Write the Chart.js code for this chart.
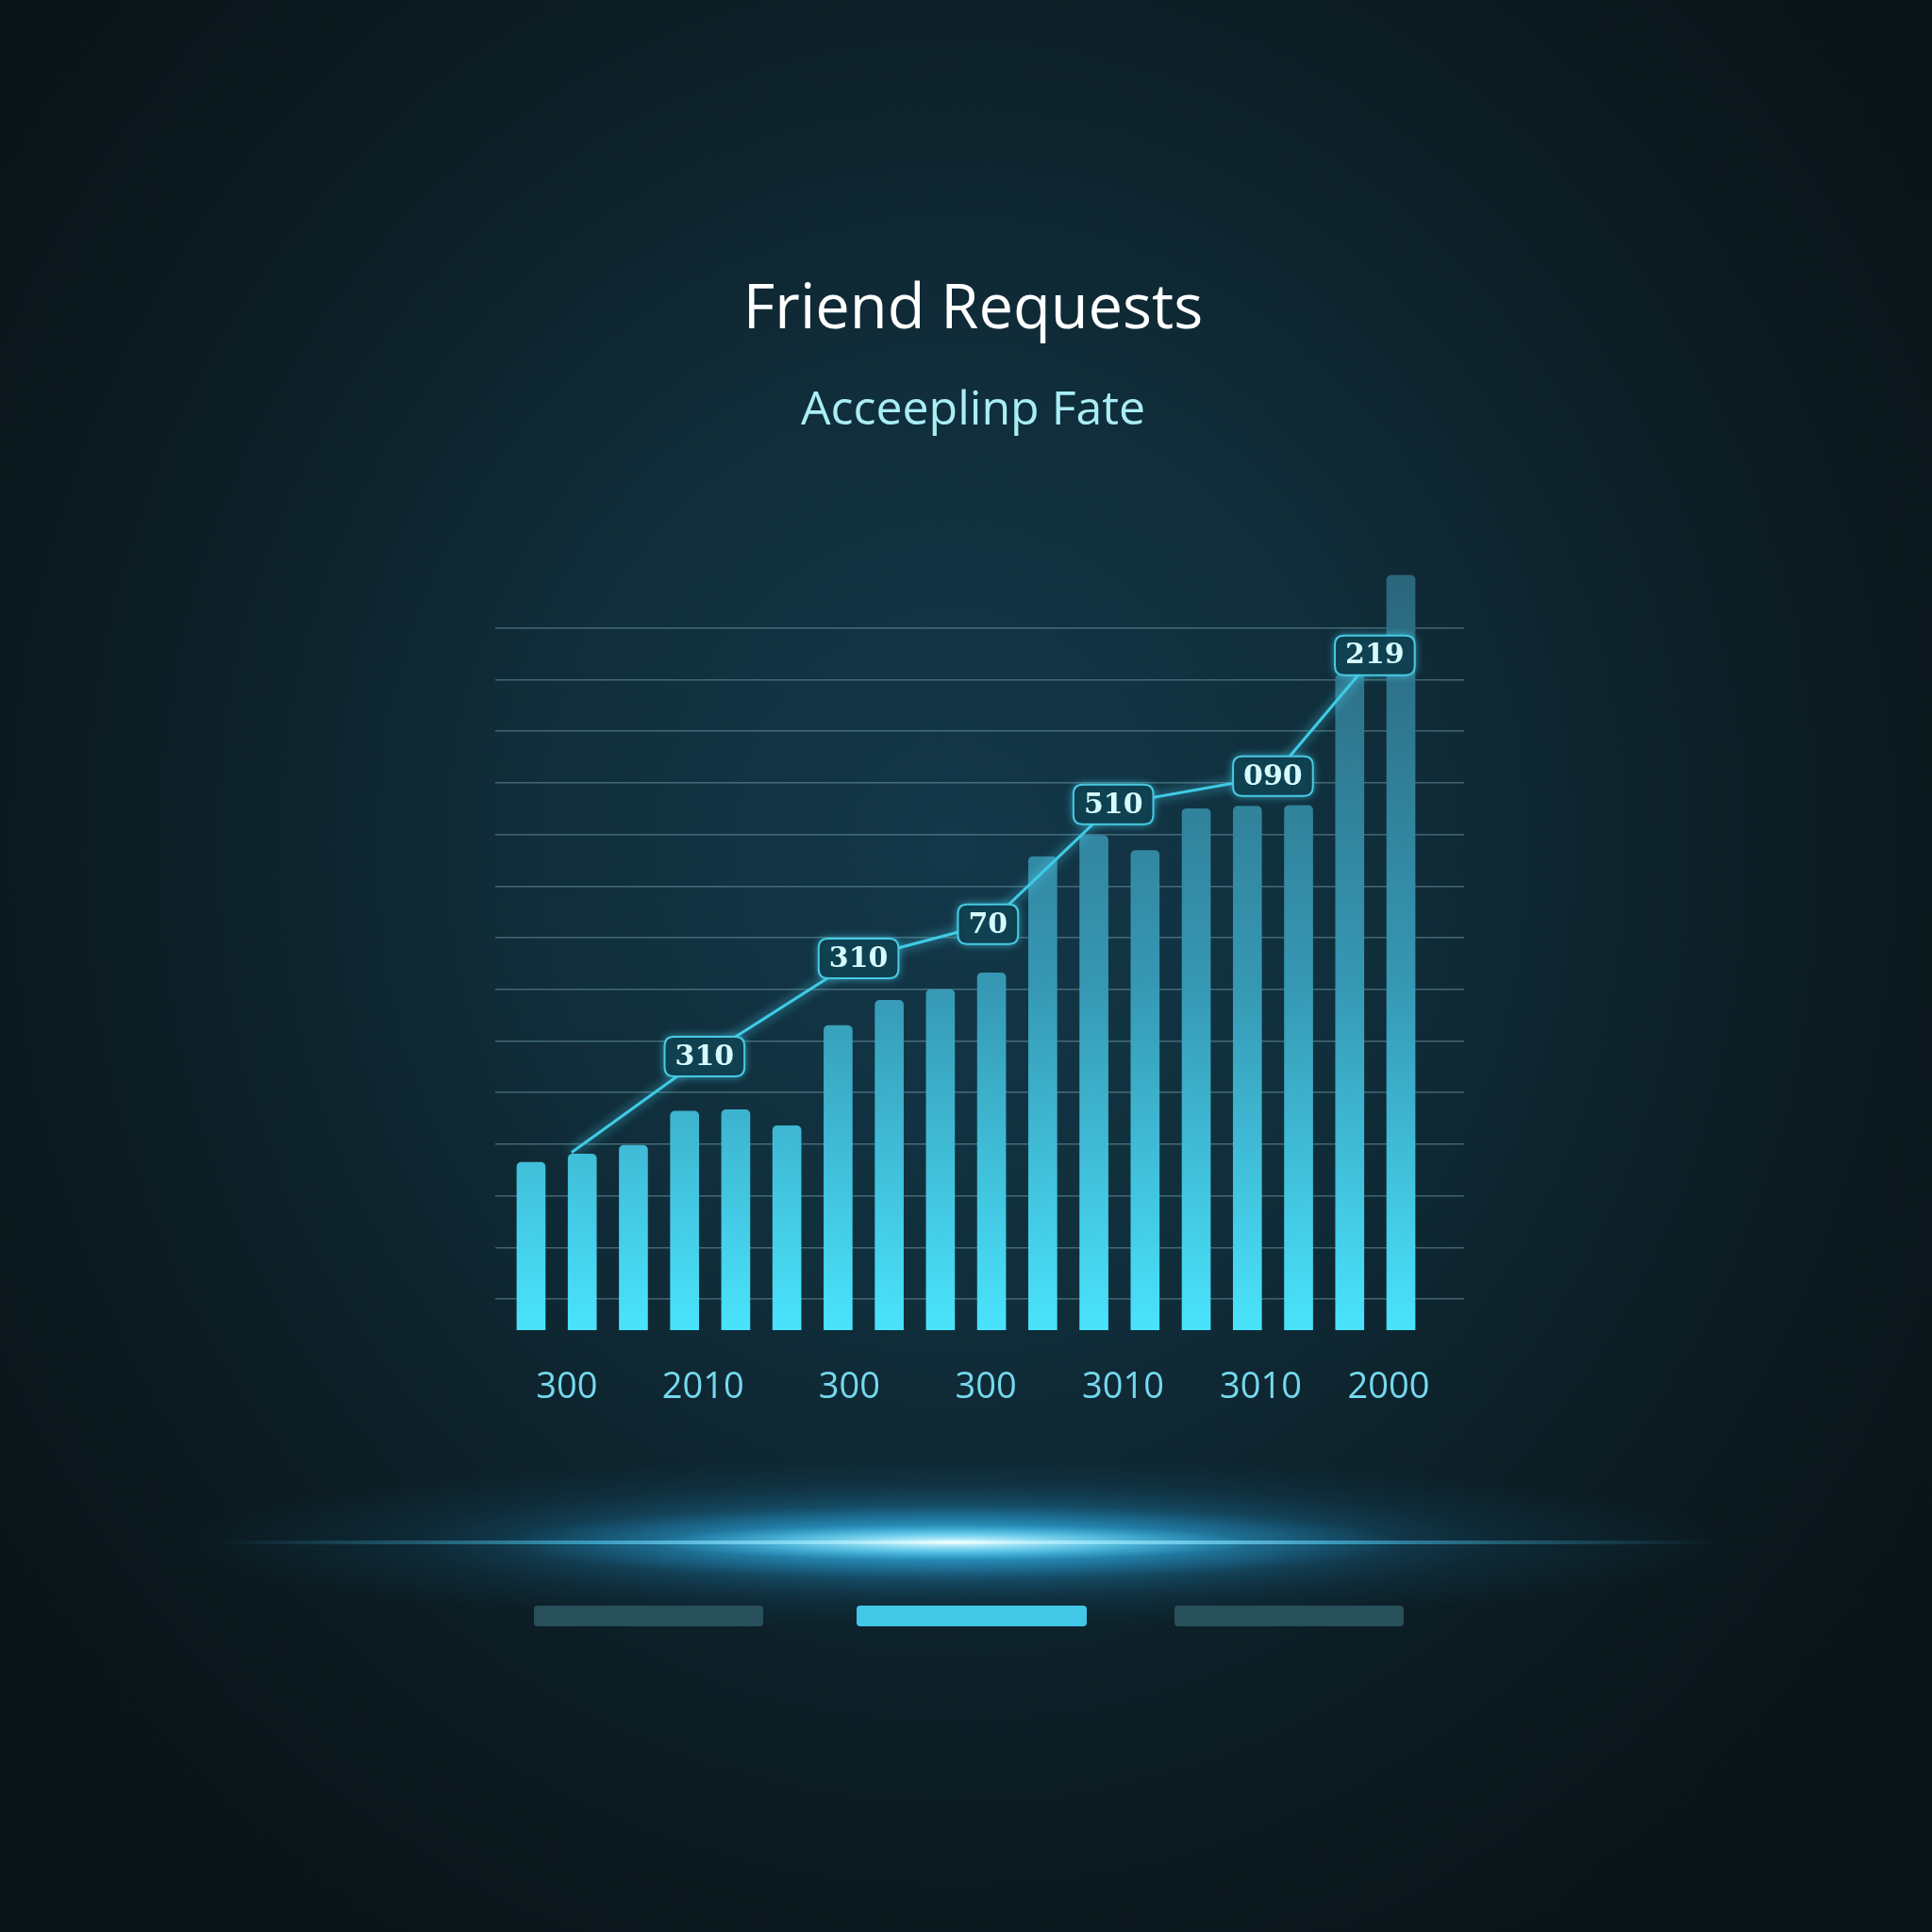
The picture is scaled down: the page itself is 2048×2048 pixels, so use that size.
<!DOCTYPE html>
<html><head><meta charset="utf-8">
<script src="https://cdn.jsdelivr.net/npm/chart.js@4.4.1/dist/chart.umd.min.js"></script>
<style>html,body{margin:0;padding:0;background:#0a1418;}canvas{display:block;}</style>
</head><body>
<canvas id="c" width="2048" height="2048"></canvas>
<script>
// ---- data ----
const categories = ['1','2','3','4','5','6','7','8','9','10','11','12','13','14','15','16','17','18'];
const requests = [325, 341, 358, 424, 427, 396, 590, 639, 660, 692, 917, 958, 929, 1010, 1015, 1016, 1270, 1462];
const ratePositions = [0.79, 3.39, 6.40, 8.93, 11.38, 14.50, 16.49];
const rateValues = [344, 530, 720, 786, 1018, 1073, 1307];
const rateLabels = ['', '310', '310', '70', '510', '090', '219'];
const tickPositions = [0.70, 3.36, 6.22, 8.89, 11.57, 14.26, 16.76];
const tickLabels = ['300', '2010', '300', '300', '3010', '3010', '2000'];
const gridValues = [60, 160, 260, 360, 460, 560, 660, 760, 860, 960, 1060, 1160, 1260, 1360];

function rr(ctx, x, y, w, h, r) {
  ctx.beginPath();
  ctx.moveTo(x + r, y);
  ctx.lineTo(x + w - r, y); ctx.quadraticCurveTo(x + w, y, x + w, y + r);
  ctx.lineTo(x + w, y + h - r); ctx.quadraticCurveTo(x + w, y + h, x + w - r, y + h);
  ctx.lineTo(x + r, y + h); ctx.quadraticCurveTo(x, y + h, x, y + h - r);
  ctx.lineTo(x, y + r); ctx.quadraticCurveTo(x, y, x + r, y);
  ctx.closePath();
}

function barGrad(chart) {
  const a = chart.chartArea;
  if (!a) return '#3698b4';
  const g = chart.ctx.createLinearGradient(0, a.bottom, 0, a.top);
  g.addColorStop(0, '#4ae3fc');
  g.addColorStop(0.45, '#3698b4');
  g.addColorStop(1, '#2a6479');
  return g;
}

const bg = {
  id: 'bg',
  beforeDraw(chart) {
    const { ctx, width, height } = chart;
    ctx.save();
    ctx.fillStyle = '#0a1418';
    ctx.fillRect(0, 0, width, height);
    ctx.translate(1010, 900);
    ctx.scale(1, 1.1);
    const g = ctx.createRadialGradient(0, 0, 0, 0, 0, 1250);
    g.addColorStop(0, '#13384a');
    g.addColorStop(0.35, '#102e3b');
    g.addColorStop(0.7, '#0c1d24');
    g.addColorStop(1, '#0a1418');
    ctx.fillStyle = g;
    ctx.fillRect(-2000, -2000, 4000, 4000);
    ctx.restore();
  }
};

const lineGlow = {
  id: 'lineGlow',
  beforeDatasetDraw(chart, args) {
    if (args.index === 1) { chart.ctx.save(); chart.ctx.shadowColor = 'rgba(80,220,250,0.9)'; chart.ctx.shadowBlur = 12; }
  },
  afterDatasetDraw(chart, args) {
    if (args.index === 1) chart.ctx.restore();
  }
};

const tags = {
  id: 'tags',
  afterDatasetsDraw(chart) {
    const meta = chart.getDatasetMeta(1);
    const ctx = chart.ctx;
    ctx.save();
    ctx.font = 'bold 30px "DejaVu Serif"';
    meta.data.forEach((pt, i) => {
      const t = rateLabels[i];
      if (!t) return;
      const w = ctx.measureText(t).width + 22, h = 42;
      const x = pt.x - w / 2, y = pt.y - h / 2;
      ctx.shadowColor = 'rgba(70,210,240,0.8)';
      ctx.shadowBlur = 10;
      ctx.fillStyle = 'rgba(14,60,76,0.96)';
      rr(ctx, x, y, w, h, 10);
      ctx.fill();
      ctx.shadowBlur = 0;
      ctx.strokeStyle = '#49c9e2';
      ctx.lineWidth = 2;
      ctx.stroke();
      ctx.fillStyle = '#d6fbff';
      ctx.textAlign = 'center';
      ctx.textBaseline = 'middle';
      ctx.fillText(t, pt.x, pt.y + 1);
    });
    ctx.restore();
  }
};

const decor = {
  id: 'decor',
  afterDraw(chart) {
    const ctx = chart.ctx;
    const cx = 1010, cy = 1635;
    ctx.save();
    // wide halo
    ctx.save();
    ctx.translate(cx, cy); ctx.scale(1, 0.11);
    let g = ctx.createRadialGradient(0, 0, 0, 0, 0, 820);
    g.addColorStop(0, 'rgba(50,185,235,0.75)');
    g.addColorStop(0.35, 'rgba(35,150,205,0.45)');
    g.addColorStop(0.7, 'rgba(25,110,155,0.15)');
    g.addColorStop(1, 'rgba(20,100,140,0)');
    ctx.fillStyle = g;
    ctx.beginPath(); ctx.arc(0, 0, 820, 0, Math.PI * 2); ctx.fill();
    ctx.restore();
    // mid halo
    ctx.save();
    ctx.translate(cx, cy); ctx.scale(1, 0.08);
    g = ctx.createRadialGradient(0, 0, 0, 0, 0, 480);
    g.addColorStop(0, 'rgba(90,210,250,0.7)');
    g.addColorStop(0.6, 'rgba(50,180,235,0.3)');
    g.addColorStop(1, 'rgba(40,160,220,0)');
    ctx.fillStyle = g;
    ctx.beginPath(); ctx.arc(0, 0, 480, 0, Math.PI * 2); ctx.fill();
    ctx.restore();
    // thin line
    g = ctx.createLinearGradient(230, 0, 1820, 0);
    g.addColorStop(0, 'rgba(60,190,230,0)');
    g.addColorStop(0.25, 'rgba(80,200,240,0.6)');
    g.addColorStop(0.49, 'rgba(230,250,255,1)');
    g.addColorStop(0.75, 'rgba(80,200,240,0.6)');
    g.addColorStop(1, 'rgba(60,190,230,0)');
    ctx.fillStyle = g;
    ctx.fillRect(230, cy - 2, 1590, 4);
    // bright core
    ctx.save();
    ctx.translate(cx, cy); ctx.scale(1, 0.06);
    g = ctx.createRadialGradient(0, 0, 0, 0, 0, 320);
    g.addColorStop(0, 'rgba(240,255,255,0.95)');
    g.addColorStop(0.5, 'rgba(130,225,250,0.55)');
    g.addColorStop(1, 'rgba(60,190,235,0)');
    ctx.fillStyle = g;
    ctx.beginPath(); ctx.arc(0, 0, 320, 0, Math.PI * 2); ctx.fill();
    ctx.restore();
    // pagination
    ctx.fillStyle = '#28505b';
    rr(ctx, 566, 1702, 243, 22, 4); ctx.fill();
    rr(ctx, 1245, 1702, 243, 22, 4); ctx.fill();
    ctx.fillStyle = '#40c8e6';
    rr(ctx, 908, 1702, 244, 22, 4); ctx.fill();
    ctx.restore();
  }
};

new Chart(document.getElementById('c'), {
  type: 'bar',
  data: {
    labels: categories,
    datasets: [
      {
        type: 'bar', label: 'Friend Requests',
        data: requests.map((v, i) => ({ x: i, y: v })),
        backgroundColor: c => barGrad(c.chart),
        barThickness: 30, borderRadius: 5, borderSkipped: 'bottom', order: 2
      },
      {
        type: 'line', label: 'Accepting Rate',
        data: ratePositions.map((x, i) => ({ x: x, y: rateValues[i] })),
        borderColor: '#3fcbe6', borderWidth: 3, pointRadius: 0, tension: 0, fill: false, order: 1
      }
    ]
  },
  options: {
    responsive: false, animation: false, devicePixelRatio: 1,
    layout: { padding: { left: 511, right: 496, top: 0, bottom: 548 } },
    plugins: {
      legend: { display: false }, tooltip: { enabled: false },
      title: { display: true, text: 'Friend Requests', color: '#ffffff',
        font: { family: '"Open Sans"', size: 65, weight: 'normal' }, padding: { top: 290, bottom: 38 } },
      subtitle: { display: true, text: 'Acceeplinp Fate', color: '#a9eef7',
        font: { family: '"Open Sans"', size: 50, weight: 'normal' }, padding: { top: 0, bottom: 134 } }
    },
    scales: {
      x: {
        type: 'linear', min: -0.70, max: 18.235, offset: false,
        grid: { display: false, offset: false }, border: { display: false },
        afterBuildTicks: s => { s.ticks = tickPositions.map(v => ({ value: v })); },
        ticks: { color: '#74d9ee', font: { family: '"Open Sans"', size: 38 }, padding: 30,
          maxRotation: 0, autoSkip: false, callback: (v, i) => tickLabels[i] },
        afterFit: s => { s.height = 90; }
      },
      y: {
        min: 0, max: 1480,
        grid: { color: 'rgba(150,200,212,0.38)', lineWidth: 1.5, drawTicks: false },
        border: { display: false },
        ticks: { display: false },
        afterBuildTicks: s => { s.ticks = gridValues.map(v => ({ value: v })); },
        afterFit: s => { s.width = 14; }
      }
    }
  },
  plugins: [bg, lineGlow, tags, decor]
});
</script>
</body></html>
